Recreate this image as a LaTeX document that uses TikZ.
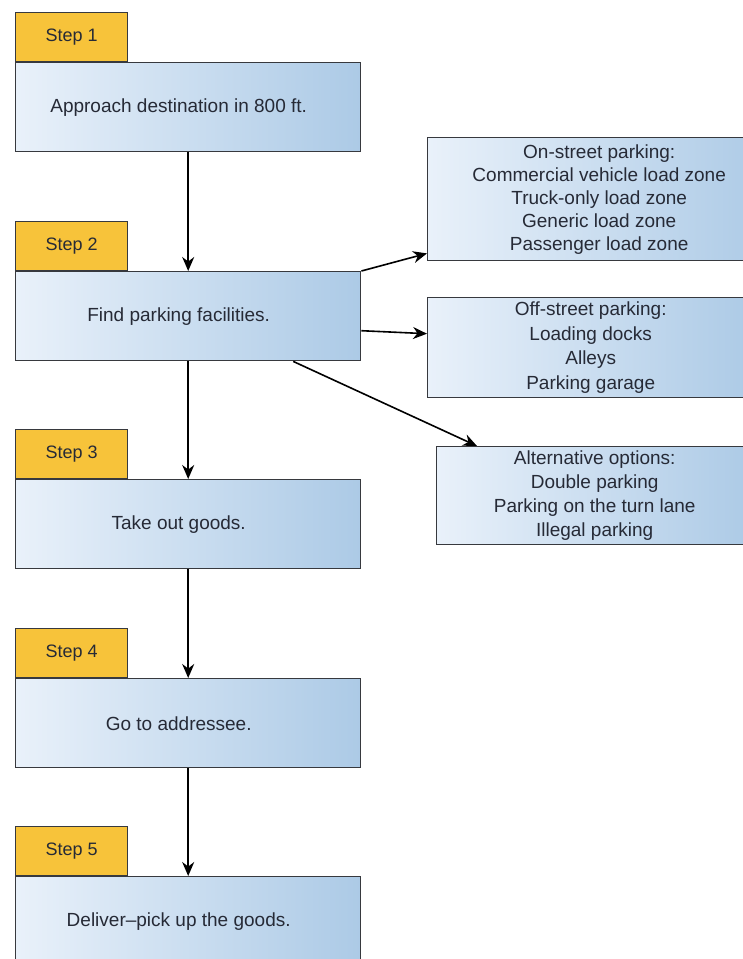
\documentclass[tikz,border=0pt]{standalone}
\usepackage{fontspec}
\setmainfont{Liberation Sans}
\usetikzlibrary{arrows.meta,calc}
\definecolor{tabfill}{RGB}{247,195,58}
\definecolor{boxL}{RGB}{233,241,250}
\definecolor{boxR}{RGB}{172,202,230}
\definecolor{edge}{RGB}{55,57,62}
\definecolor{txt}{RGB}{38,42,54}
\begin{document}
\begin{tikzpicture}[x=1pt,y=-1pt,
  tabbox/.style={draw=edge, line width=1.4pt, fill=tabfill, minimum width=112pt, minimum height=49pt, inner sep=0pt, anchor=south west, font=\fontsize{18}{21}\selectfont, text=txt},
  mainbox/.style={draw=edge, line width=1.4pt, left color=boxL, right color=boxR, minimum width=345pt, minimum height=89pt, inner sep=0pt, anchor=north west, font=\fontsize{19}{23}\selectfont, text=txt, execute at end node={\hspace*{19pt}}},
  sidebox/.style={draw=edge, line width=1.4pt, left color=boxL, right color=boxR, inner sep=0pt, anchor=north west, align=center, text=txt},
  flow/.style={-{Stealth[length=14pt,width=12pt]}, line width=1.6pt, black}]
\clip (0,0) rectangle (743,959);
\fill[white] (0,0) rectangle (743,959);

% main column
\node[mainbox] (b1) at (15,62) {Approach destination in 800 ft.};
\node[tabbox] (t1) at (15,62) {Step 1};
\node[mainbox] (b2) at (15,271) {Find parking facilities.};
\node[tabbox] (t2) at (15,271) {Step 2};
\node[mainbox] (b3) at (15,479) {Take out goods.};
\node[tabbox] (t3) at (15,479) {Step 3};
\node[mainbox] (b4) at (15,678) {Go to addressee.};
\node[tabbox] (t4) at (15,678) {Step 4};
\node[mainbox] (b5) at (15,876) {Deliver--pick up the goods.};
\node[tabbox] (t5) at (15,876) {Step 5};

% side boxes
\node[sidebox, minimum width=343pt, minimum height=123pt, font=\fontsize{19}{23}\selectfont] (on) at (427,137)
  {On-street parking:\\Commercial vehicle load zone\\Truck-only load zone\\Generic load zone\\Passenger load zone};
\node[sidebox, minimum width=326pt, minimum height=100pt, font=\fontsize{19}{24.6}\selectfont] (off) at (427,297)
  {Off-street parking:\\Loading docks\\Alleys\\Parking garage};
\node[sidebox, minimum width=316pt, minimum height=98pt, font=\fontsize{19}{24}\selectfont] (alt) at (436,446)
  {Alternative options:\\Double parking\\Parking on the turn lane\\Illegal parking};

% connectors
\draw[flow] (b1.south) -- (b2.north);
\draw[flow] (b2.south) -- (b3.north);
\draw[flow] (b3.south) -- (b4.north);
\draw[flow] (b4.south) -- (b5.north);
\draw[flow] (b2.north east) -- ($(on.south west)+(0pt,8pt)$);
\draw[flow] ($(b2.east)+(0pt,-14.5pt)$) -- ($(off.west)+(0pt,14pt)$);
\draw[flow] ($(b2.south)+(105pt,0pt)$) -- ($(alt.north west)+(41pt,0pt)$);
\end{tikzpicture}
\end{document}
